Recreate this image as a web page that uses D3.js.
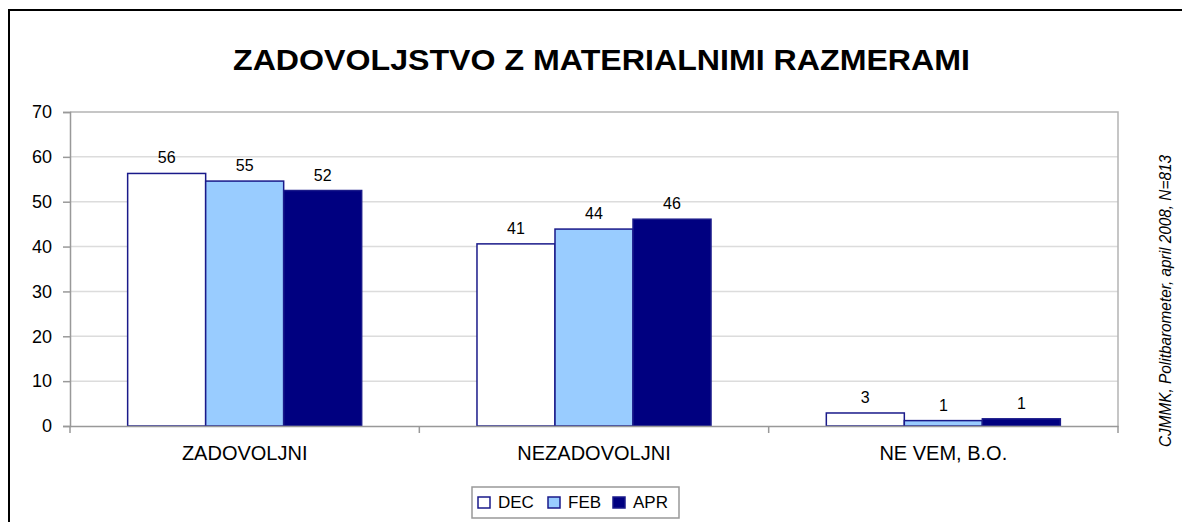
<!DOCTYPE html>
<html>
<head>
<meta charset="utf-8">
<script src="https://cdn.jsdelivr.net/npm/d3@7"></script>
<style>
  body { margin: 0; background: #fff; }
  svg text { font-family: Arial, "Liberation Sans", sans-serif; fill: #000; }
</style>
</head>
<body>
<div id="chart"></div>
<script>
const categories = ['ZADOVOLJNI', 'NEZADOVOLJNI', 'NE VEM, B.O.'];
const seriesNames = ['DEC', 'FEB', 'APR'];
const decValues = [56.3, 40.6, 2.9];
const febValues = [54.6, 43.9, 1.2];
const aprValues = [52.5, 46.1, 1.6];
const decLabels = ['56', '41', '3'];
const febLabels = ['55', '44', '1'];
const aprLabels = ['52', '46', '1'];
const yTicks = [0, 10, 20, 30, 40, 50, 60, 70];

const titleText = 'ZADOVOLJSTVO Z MATERIALNIMI RAZMERAMI';
const sourceText = 'CJMMK, Politbarometer, april 2008, N=813';

const fills = { DEC: '#ffffff', FEB: '#99ccff', APR: '#000080' };

const width = 1182, height = 522;
const plot = { left: 70, right: 1118, top: 112, bottom: 426 };

const series = [
  { name: 'DEC', values: decValues, labels: decLabels },
  { name: 'FEB', values: febValues, labels: febLabels },
  { name: 'APR', values: aprValues, labels: aprLabels }
];

const svg = d3.select('#chart').append('svg')
  .attr('width', width)
  .attr('height', height);

// outer frame
svg.append('rect')
  .attr('x', 9).attr('y', 10)
  .attr('width', width + 20).attr('height', height + 20)
  .attr('fill', 'none')
  .attr('stroke', '#000')
  .attr('stroke-width', 2);

// Title
svg.append('text')
  .attr('x', 233).attr('y', 70)
  .attr('textLength', 737)
  .attr('lengthAdjust', 'spacingAndGlyphs')
  .style('font-size', '30px')
  .style('font-weight', 'bold')
  .text(titleText);

const x0 = d3.scaleBand().domain(categories).range([plot.left, plot.right]).padding(0);
const x1 = d3.scaleBand().domain(seriesNames).range([0, x0.bandwidth()])
  .paddingInner(0).paddingOuter(0.739);
const y = d3.scaleLinear().domain([0, 70]).range([plot.bottom, plot.top]);

// gridlines
svg.append('g')
  .selectAll('line')
  .data(yTicks.filter(d => d > 0 && d < 70))
  .enter().append('line')
  .attr('x1', plot.left).attr('x2', plot.right)
  .attr('y1', d => y(d)).attr('y2', d => y(d))
  .attr('stroke', '#dcdcdc')
  .attr('stroke-width', 1.5);

// plot frame top/right
svg.append('path')
  .attr('d', `M${plot.left},${y(70)}H${plot.right}V${plot.bottom}`)
  .attr('fill', 'none')
  .attr('stroke', '#b4b4b4')
  .attr('stroke-width', 1.5);

// Y Axis
const yAxis = svg.append('g')
  .attr('transform', `translate(${plot.left},0)`)
  .call(d3.axisLeft(y).tickValues(yTicks).tickSize(7).tickPadding(11));
yAxis.select('.domain').attr('stroke', '#999').attr('stroke-width', 1.5);
yAxis.selectAll('.tick line').attr('stroke', '#999').attr('stroke-width', 1.5);
yAxis.selectAll('.tick text').style('font-size', '18px').attr('fill', '#000');

// Bars
const groups = svg.append('g')
  .selectAll('g')
  .data(series)
  .enter().append('g');

groups.selectAll('rect')
  .data(s => s.values.map((v, i) => ({ name: s.name, cat: categories[i], value: v })))
  .enter().append('rect')
  .attr('x', d => x0(d.cat) + x1(d.name))
  .attr('y', d => y(d.value))
  .attr('width', x1.bandwidth())
  .attr('height', d => y(0) - y(d.value))
  .attr('fill', d => fills[d.name])
  .attr('stroke', '#1a1a8a')
  .attr('stroke-width', 1.5);

// value labels
groups.selectAll('text')
  .data(s => s.values.map((v, i) => ({ name: s.name, cat: categories[i], value: v, label: s.labels[i] })))
  .enter().append('text')
  .attr('x', d => x0(d.cat) + x1(d.name) + x1.bandwidth() / 2)
  .attr('y', d => y(d.value) - 10)
  .attr('text-anchor', 'middle')
  .style('font-size', '16px')
  .text(d => d.label);

// X Axis
const xAxis = svg.append('g')
  .attr('transform', `translate(0,${plot.bottom})`)
  .call(d3.axisBottom(x0).tickSize(0).tickPadding(20));
xAxis.select('.domain').attr('stroke', '#999').attr('stroke-width', 1.5);
xAxis.selectAll('.tick text').style('font-size', '20px').attr('fill', '#000');

// category separators
svg.append('g')
  .selectAll('line')
  .data(categories.map(c => x0(c)).concat([plot.right]))
  .enter().append('line')
  .attr('x1', d => d).attr('x2', d => d)
  .attr('y1', plot.bottom).attr('y2', plot.bottom + 7)
  .attr('stroke', '#999')
  .attr('stroke-width', 1.5);

// Legend
const legend = svg.append('g').attr('transform', 'translate(472,487)');
legend.append('rect')
  .attr('width', 207).attr('height', 31)
  .attr('fill', '#fff')
  .attr('stroke', '#999')
  .attr('stroke-width', 1.5);

const legendX = [6, 76, 141];
const item = legend.selectAll('g.item')
  .data(seriesNames)
  .enter().append('g')
  .attr('class', 'item')
  .attr('transform', (d, i) => `translate(${legendX[i]},10)`);
item.append('rect')
  .attr('width', 12).attr('height', 11)
  .attr('fill', d => fills[d])
  .attr('stroke', '#1a1a8a')
  .attr('stroke-width', 1.5);
item.append('text')
  .attr('x', 20).attr('y', 11)
  .style('font-size', '17px')
  .text(d => d);

// Source note (rotated)
svg.append('text')
  .attr('transform', 'translate(1171,301) rotate(-90)')
  .attr('text-anchor', 'middle')
  .attr('textLength', 292)
  .attr('lengthAdjust', 'spacingAndGlyphs')
  .style('font-size', '16px')
  .style('font-style', 'italic')
  .text(sourceText);
</script>
</body>
</html>
